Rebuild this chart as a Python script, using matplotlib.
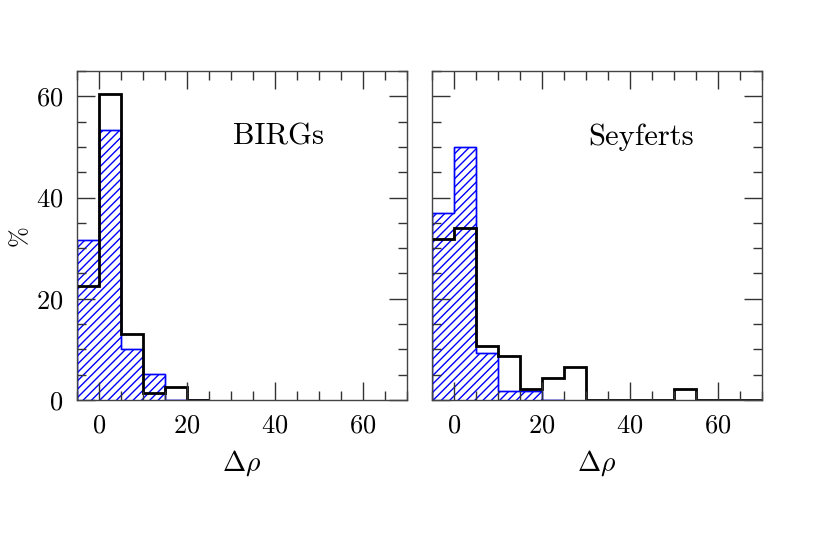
import numpy as np
import matplotlib
matplotlib.use('Agg')
import matplotlib.pyplot as plt
from matplotlib.ticker import MultipleLocator

# bin edges in delta rho (width 5)
birg_edges = [-5, 0, 5, 10, 15, 20, 25]
birg_black = [22.5, 60.5, 13.1, 1.4, 2.6, 0.0]
birg_blue = [31.7, 53.4, 10.0, 5.1, 0.0, 0.0]

sey_edges_black = [-5, 0, 5, 10, 15, 20, 25, 30, 35, 40, 45, 50, 55, 60, 65, 70]
sey_black = [31.9, 34.0, 10.6, 8.7, 2.1, 4.3, 6.5, 0.0, 0.0, 0.0, 0.0, 2.1, 0.0, 0.0, 0.0]
sey_edges_blue = [-5, 0, 5, 10, 15, 20, 25]
sey_blue = [37.0, 50.0, 9.3, 1.8, 1.8, 0.0]

x_ticks = [0, 20, 40, 60]
y_ticks = [0, 20, 40, 60]

plt.rcParams['font.family'] = ['cmr10', 'DejaVu Serif']
plt.rcParams['mathtext.fontset'] = 'cm'
plt.rcParams['axes.formatter.use_mathtext'] = True
plt.rcParams['hatch.linewidth'] = 1.0


def draw_panel(ax, edges_k, black, edges_b, blue, label):
    ax.stairs(blue, edges_b, fill=True, facecolor='none', edgecolor='#0000ff',
              hatch='////', linewidth=1.0, baseline=0)
    ax.stairs(blue, edges_b, fill=False, color='#0000ff', linewidth=1.0, baseline=0)
    ax.stairs(black, edges_k, color='black', linewidth=2.0, baseline=None)
    ax.set_xlim(-5, 70)
    ax.set_ylim(0, 65)
    ax.set_xticks(x_ticks)
    ax.set_yticks(y_ticks)
    ax.xaxis.set_minor_locator(MultipleLocator(5))
    ax.yaxis.set_minor_locator(MultipleLocator(5))
    ax.tick_params(which='both', direction='in', top=True, right=True,
                   color='#333333', width=1.0, labelsize=19, pad=10)
    ax.tick_params(which='major', length=13)
    ax.tick_params(which='minor', length=6.5)
    for s in ax.spines.values():
        s.set_color('#444444')
        s.set_linewidth(1.0)
    ax.set_xlabel(r'$\Delta\rho$', fontsize=20, labelpad=8)
    ax.text(0.472, 0.80, label, transform=ax.transAxes, fontsize=22,
            ha='left', va='center')


fig = plt.figure(figsize=(8.3, 5.41), dpi=100)
ax1 = fig.add_axes([0.0928, 0.2606, 0.3976, 0.6081])
ax2 = fig.add_axes([0.5205, 0.2606, 0.3976, 0.6081])

draw_panel(ax1, birg_edges, birg_black, birg_edges, birg_blue, 'BIRGs')
draw_panel(ax2, sey_edges_black, sey_black, sey_edges_blue, sey_blue, 'Seyferts')
ax2.set_yticklabels([])
ax1.set_ylabel('%', fontsize=18, labelpad=4)

fig.savefig('out.png', dpi=100)
